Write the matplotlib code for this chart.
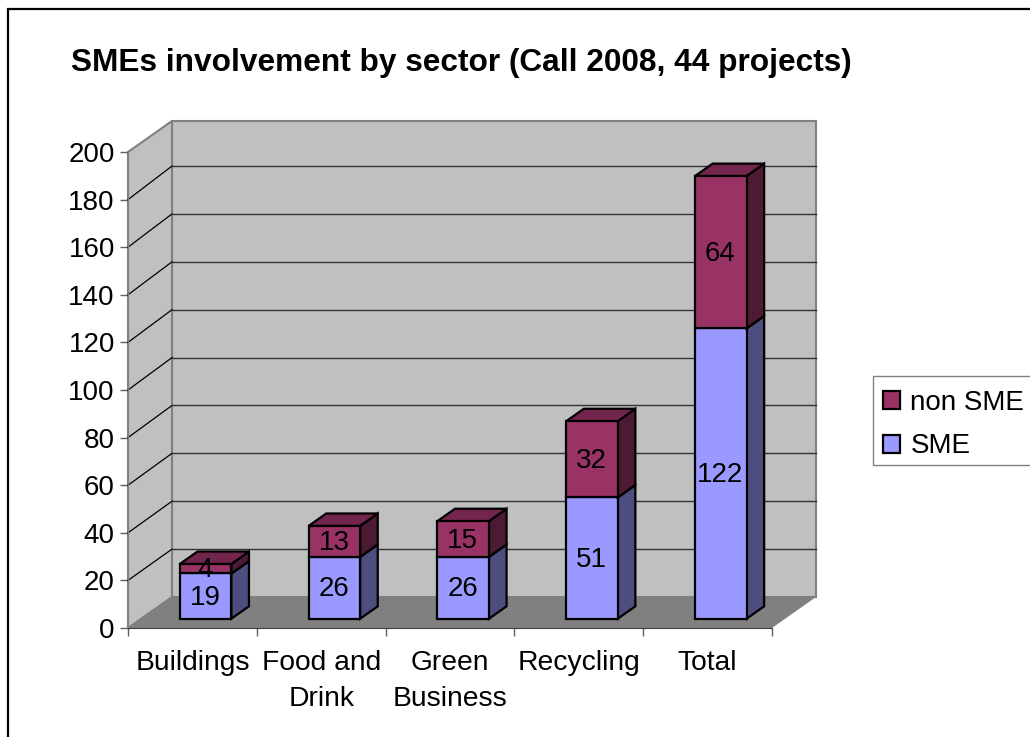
import matplotlib
matplotlib.use("Agg")
import matplotlib.pyplot as plt
from matplotlib.patches import Polygon, Rectangle

plt.rcParams['font.family'] = ['Liberation Sans', 'DejaVu Sans']

categories = ['Buildings', 'Food and\nDrink', 'Green\nBusiness', 'Recycling', 'Total']
sme = [19, 26, 26, 51, 122]
non_sme = [4, 13, 15, 32, 64]
y_ticks = list(range(0, 201, 20))
title = 'SMEs involvement by sector (Call 2008, 44 projects)'

W, H = 1030, 737
WALL, FLOOR, EDGE = '#C0C0C0', '#808080', '#808080'
C_SME = ('#9999FF', '#4D4D80')
C_NON = ('#993366', '#4D1A33', '#73264D')

fig = plt.figure(figsize=(W / 100, H / 100), dpi=100, facecolor='white')
L, R, T, B = 128, 772, 152, 628
ax = fig.add_axes([L / W, 1 - B / H, (R - L) / W, (B - T) / H])
ax.set_xlim(0, 5)
ax.set_ylim(0, 200)
ax.patch.set_visible(False)

DX = 44 / ((R - L) / 5)      # full depth, category units
DY = 31 / ((B - T) / 200)    # full depth, value units
GRID_SCALE = 1.006           # back wall gridlines sit slightly wider apart


def P(x, y, d=0.0):
    return (x + d * DX, y + d * DY)


def poly(pts, fc, ec='none', lw=0.0, z=1):
    ax.add_patch(Polygon(pts, closed=True, facecolor=fc, edgecolor=ec, linewidth=lw,
                         zorder=z, clip_on=False, joinstyle='miter'))


# walls and floor
poly([P(0, 0, 1), P(5, 0, 1), P(5, 200, 1), P(0, 200, 1)], WALL, EDGE, 1.5, 1)
poly([P(0, 0), P(0, 0, 1), P(0, 200, 1), P(0, 200)], WALL, EDGE, 1.5, 1)
poly([P(0, 0), P(5, 0), P(5, 0, 1), P(0, 0, 1)], FLOOR, 'none', 0, 1.5)

for v in y_ticks[1:-1]:
    ax.plot(*zip(P(0, v), P(0, v * GRID_SCALE, 1)), color='#000000', lw=0.9, zorder=2, clip_on=False)
    ax.plot(*zip(P(0, v * GRID_SCALE, 1), P(5, v * GRID_SCALE, 1)), color='#333333', lw=1.0,
            zorder=2, clip_on=False)

# bars
BW, BX, D0, D1 = 0.40, 0.30, 0.30, 0.70
LW = 1.6


def box(x, y0, y1, colors, z):
    x0, x1 = x + BX, x + BX + BW
    side = colors[1]
    top = colors[2] if len(colors) > 2 else colors[1]
    poly([P(x1, y0, D0), P(x1, y0, D1), P(x1, y1, D1), P(x1, y1, D0)], side, 'black', LW, z)
    poly([P(x0, y1, D0), P(x1, y1, D0), P(x1, y1, D1), P(x0, y1, D1)], top, 'black', LW, z)
    poly([P(x0, y0, D0), P(x1, y0, D0), P(x1, y1, D0), P(x0, y1, D0)], colors[0], 'black', LW, z + 0.1)


def label(x, y, v):
    ax.annotate(str(v), (x, y), xytext=(-0.3, -1.2), textcoords='offset points',
                ha='center', va='center', fontsize=20, zorder=6)


for i, (a, b) in enumerate(zip(sme, non_sme)):
    box(i, 0, a, C_SME, 3)
    box(i, a, a + b, C_NON, 3.5)
    cx = i + BX + BW / 2 + D0 * DX
    label(cx, a / 2 + D0 * DY, a)
    label(cx, a + b / 2 + D0 * DY, b)

# axes
for s in ('top', 'right'):
    ax.spines[s].set_visible(False)
ax.spines['left'].set_color('#808080')
ax.spines['bottom'].set_color('#404040')
ax.spines['left'].set_zorder(2)
ax.spines['bottom'].set_zorder(2)
ax.set_yticks(y_ticks)
ax.tick_params(axis='y', labelsize=20, length=6, width=1, color='#606060', pad=3.5)
ax.set_xticks(range(6))
ax.set_xticklabels([])
ax.tick_params(axis='x', which='major', length=6, width=1, color='#606060')
ax.set_xticks([i + 0.5 for i in range(5)], minor=True)
ax.set_xticklabels(categories, minor=True, linespacing=1.52)
ax.tick_params(axis='x', which='minor', length=0, labelsize=20.3, pad=15.7)

# legend: box drawn separately so the rows can sit low in it, as in the reference
fig.add_artist(Rectangle((873 / W, 1 - 465 / H), 160 / W, 89 / H, transform=fig.transFigure,
                         facecolor='white', edgecolor='#808080', linewidth=1))
h = [Rectangle((0, 0), 1, 1, facecolor=C_NON[0], edgecolor='black', linewidth=1.6),
     Rectangle((0, 0), 1, 1, facecolor=C_SME[0], edgecolor='black', linewidth=1.6)]
leg = fig.legend(h, ['non SME', 'SME'], loc='center left',
                 bbox_to_anchor=(874 / W, 1 - 424.5 / H), fontsize=20, frameon=False,
                 handlelength=0.62, handleheight=0.62, handletextpad=0.36, borderpad=0.33,
                 labelspacing=0.64, borderaxespad=0)

fig.text(71 / W, 1 - 63.5 / H, title, fontsize=22.8, fontweight='bold', va='center', ha='left')

# outer frame
fig.add_artist(Rectangle((8 / W, -0.02), 1.05, 1 - 8.5 / H + 0.02, transform=fig.transFigure,
                         fill=False, edgecolor='black', linewidth=1.6))

fig.savefig('out.png', dpi=100, facecolor='white')
